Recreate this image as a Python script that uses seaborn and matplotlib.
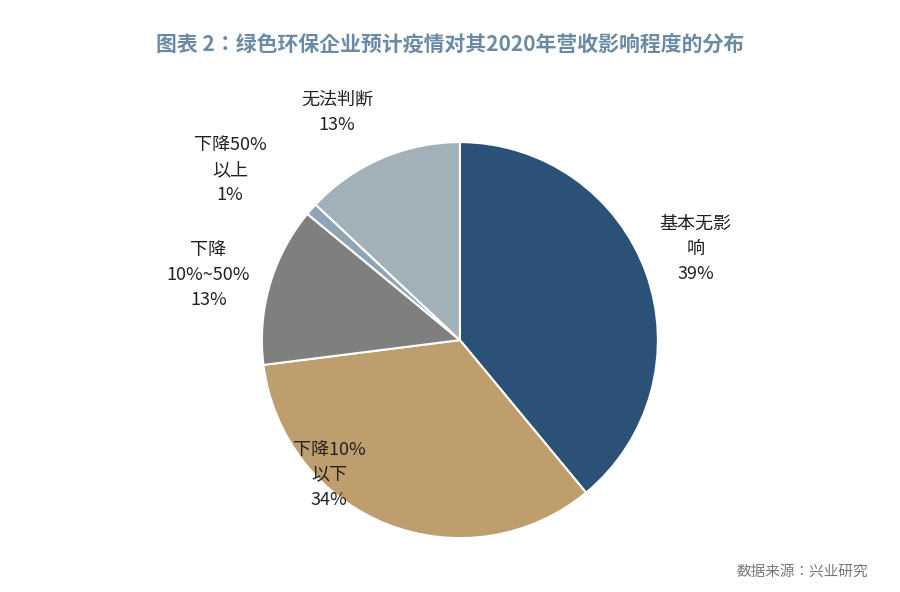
import matplotlib
matplotlib.use("Agg")
import matplotlib.pyplot as plt
from matplotlib import font_manager
import seaborn as sns

cjk = [f.name for f in font_manager.fontManager.ttflist if "CJK" in f.name]
fams = [n for n in ["Noto Sans CJK SC", "Noto Sans CJK JP", "Noto Sans CJK TC", "Noto Sans CJK KR"] if n in cjk] + sorted(set(cjk)) + ["DejaVu Sans"]
sns.set_theme(style="white", rc={"font.family": "sans-serif", "font.sans-serif": fams})

categories = ["基本无影\n响", "下降10%\n以下", "下降\n10%~50%", "下降50%\n以上", "无法判断"]
values = [39, 34, 13, 1, 13]
colors = ["#2B5177", "#BE9E6C", "#7F7F7F", "#8FA4B4", "#A2B0B9"]
label_pos = [(1.19, 0.46), (-0.66, -0.68), (-1.27, 0.33), (-1.16, 0.86), (-0.62, 1.15)]

fig = plt.figure(figsize=(9, 5.92), dpi=100)
ax = fig.add_axes([0.291, 0.091, 0.44, 0.669])
ax.pie(values, colors=colors, startangle=90, counterclock=False,
       wedgeprops=dict(edgecolor="white", linewidth=1.5))
ax.set_xlim(-1, 1); ax.set_ylim(-1, 1)
for cat, v, (x, y) in zip(categories, values, label_pos):
    ax.text(x, y, f"{cat}\n{v}%", ha="center", va="center", fontsize=13,
            color="#222222", linespacing=1.5, clip_on=False)

fig.text(0.5, 0.925, "图表 2：绿色环保企业预计疫情对其2020年营收影响程度的分布",
         ha="center", va="center", fontsize=15, color="#6B8BA5", fontweight="bold")
fig.text(0.965, 0.035, "数据来源：兴业研究", ha="right", va="center",
         fontsize=10.5, color="#777777")
fig.savefig("out.png", dpi=100)
